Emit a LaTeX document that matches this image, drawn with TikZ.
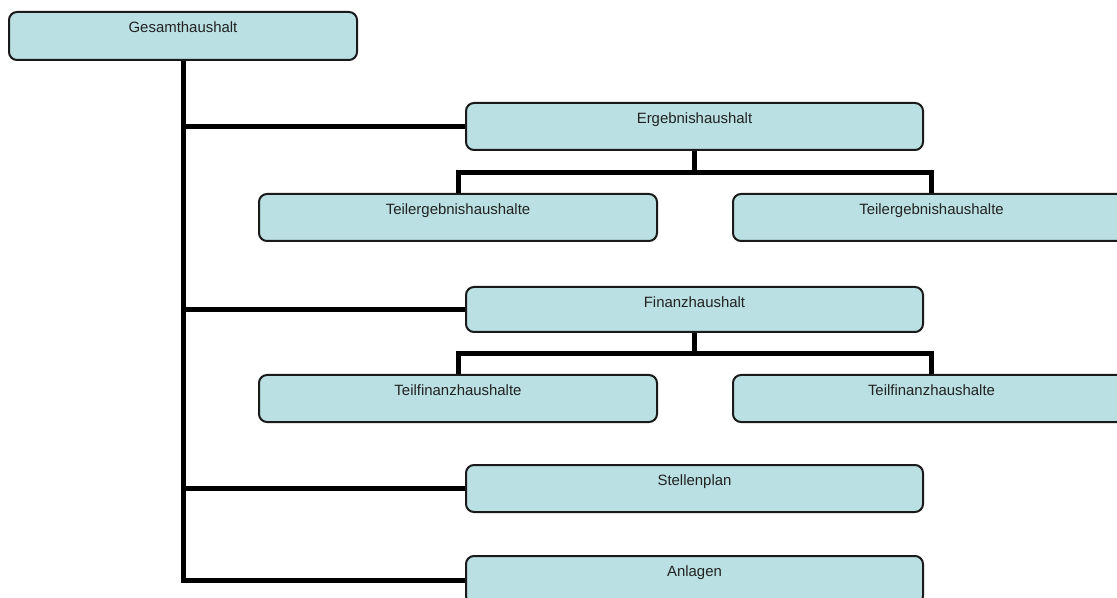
\documentclass[tikz,border=0pt]{standalone}
\usepackage{fontspec}
\setmainfont{Liberation Sans}
\usetikzlibrary{calc}
\definecolor{boxfill}{HTML}{BAE0E3}
\definecolor{boxline}{HTML}{1A1A1A}
\definecolor{txt}{HTML}{222222}
\tikzset{
  box/.style={draw=boxline, line width=1.5pt, fill=boxfill, rounded corners=6pt,
    inner sep=0pt, minimum height=35.25pt},
  lbl/.style={anchor=base, yshift=-16pt, inner sep=0pt, text=txt,
    font=\fontsize{11.2}{13}\selectfont},
  conn/.style={line width=3.75pt, line join=miter, draw=black},
}
\begin{document}
\begin{tikzpicture}[x=0.75pt, y=-0.75pt]
\useasboundingbox (0,0) rectangle (1117,598);
\clip (0,0) rectangle (1117,598);
% nodes
\node[box, minimum width=261pt, minimum height=36pt, label={[lbl]north:Gesamthaushalt}] (G) at (183,36) {};
\node[box, minimum width=342.75pt, label={[lbl]north:Ergebnishaushalt}] (E) at (694.5,126.5) {};
\node[box, minimum width=298.5pt, label={[lbl]north:Teilergebnishaushalte}] (TE1) at (458,217.5) {};
\node[box, minimum width=297.75pt, label={[lbl]north:Teilergebnishaushalte}] (TE2) at (931.5,217.5) {};
\node[box, minimum width=342.75pt, minimum height=33.75pt, label={[lbl]north:Finanzhaushalt}] (F) at (694.5,309.5) {};
\node[box, minimum width=298.5pt, label={[lbl]north:Teilfinanzhaushalte}] (TF1) at (458,398.5) {};
\node[box, minimum width=297.75pt, label={[lbl]north:Teilfinanzhaushalte}] (TF2) at (931.5,398.5) {};
\node[box, minimum width=342.75pt, label={[lbl]north:Stellenplan}] (S) at (694.5,488.5) {};
\node[box, minimum width=342.75pt, minimum height=36pt, label={[lbl]north:Anlagen}] (A) at (694.5,580) {};
% junction points
\coordinate (ej) at ($(E.south)+(0,22)$);
\coordinate (fj) at ($(F.south)+(0,21)$);
% connectors
\draw[conn] (G.south) |- (A.west);
\draw[conn] (G.south |- E.west) -- (E.west);
\draw[conn] (G.south |- F.west) -- (F.west);
\draw[conn] (G.south |- S.west) -- (S.west);
\draw[conn] (E.south) -- (ej);
\draw[conn] (TE1.north) |- (ej) -| (TE2.north);
\draw[conn] (F.south) -- (fj);
\draw[conn] (TF1.north) |- (fj) -| (TF2.north);
\end{tikzpicture}
\end{document}
